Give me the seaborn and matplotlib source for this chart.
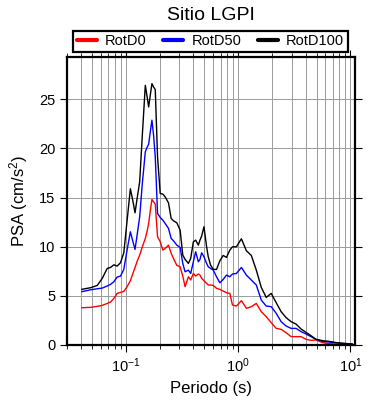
import numpy as np
import pandas as pd
import matplotlib
matplotlib.use("Agg")
import matplotlib.pyplot as plt
import matplotlib.ticker as mticker
import seaborn as sns

# Periodos (s) y espectros de respuesta
periodos = [0.0405, 0.0487, 0.0558, 0.0618, 0.0684, 0.0732, 0.0784, 0.0839, 0.0898, 0.0961,
            0.1028, 0.110, 0.1154, 0.121, 0.1269, 0.1331, 0.1405, 0.1494, 0.1546, 0.160,
            0.1654, 0.1711, 0.177, 0.1832, 0.192, 0.2028, 0.2141, 0.2245, 0.2403, 0.2538,
            0.2661, 0.285, 0.305, 0.322, 0.3376, 0.3613, 0.3789, 0.40, 0.4195, 0.4429,
            0.4582, 0.4740, 0.4971, 0.5248, 0.5429, 0.5694, 0.601, 0.6436, 0.6887, 0.737,
            0.789, 0.8445, 0.8917, 0.967, 1.071, 1.186, 1.313, 1.454, 1.610, 1.782,
            1.974, 2.186, 2.420, 2.680, 2.968, 3.285, 3.638, 4.027, 4.459, 4.937,
            5.655, 6.479, 7.421, 8.501, 10.42]

rotd100 = [5.66, 5.83, 6.06, 6.78, 7.79, 7.89, 8.16, 8.03, 8.37, 9.38,
           12.64, 15.89, 14.74, 13.45, 15.07, 16.60, 21.34, 26.42, 25.34, 24.22,
           25.41, 26.59, 26.25, 25.98, 19.14, 15.41, 15.35, 15.07, 14.46, 12.87,
           12.64, 12.43, 11.69, 9.15, 8.71, 8.30, 8.81, 10.50, 10.67, 10.16,
           10.67, 11.08, 12.03, 9.99, 8.98, 8.13, 7.69, 7.69, 8.57, 9.11,
           8.91, 9.65, 9.99, 9.99, 10.81, 9.59, 9.11, 7.62, 5.86, 4.84,
           5.25, 4.30, 3.39, 2.78, 2.37, 2.13, 1.63, 1.29, 0.95, 0.58,
           0.44, 0.37, 0.24, 0.17, 0.10]

rotd50 = [5.42, 5.62, 5.72, 5.79, 6.00, 6.17, 6.44, 6.91, 7.01, 7.69,
          9.65, 11.52, 10.60, 9.72, 11.35, 13.04, 16.43, 19.65, 20.09, 20.43,
          21.68, 22.87, 21.34, 19.14, 13.38, 12.97, 12.70, 12.36, 11.86, 10.84,
          10.60, 10.16, 9.93, 8.30, 7.45, 7.62, 7.28, 8.47, 9.49, 8.47,
          8.71, 9.38, 8.98, 8.30, 7.96, 7.79, 7.62, 6.94, 6.33, 6.67,
          7.11, 6.94, 7.22, 7.28, 7.89, 7.11, 6.61, 6.10, 4.57, 3.96,
          3.90, 3.22, 2.37, 1.93, 1.69, 1.69, 1.36, 1.12, 0.85, 0.58,
          0.37, 0.30, 0.24, 0.17, 0.10]

rotd0 = [3.79, 3.83, 3.93, 4.03, 4.23, 4.37, 4.74, 5.25, 5.35, 5.45,
         5.93, 6.54, 7.22, 7.89, 8.57, 9.15, 9.99, 10.84, 11.52, 12.36,
         13.65, 14.80, 14.57, 14.33, 11.01, 10.50, 9.65, 9.82, 10.16, 9.32,
         8.81, 8.10, 7.96, 7.01, 5.93, 6.94, 6.61, 7.28, 7.01, 7.22,
         7.11, 6.78, 6.54, 6.27, 6.10, 6.10, 6.06, 5.76, 5.66, 5.49,
         5.32, 5.25, 4.07, 3.96, 4.51, 3.73, 3.90, 4.23, 3.39, 2.88,
         2.27, 1.69, 1.59, 1.25, 0.85, 0.85, 0.85, 0.58, 0.47, 0.51,
         0.24, 0.14, 0.10, 0.07, 0.03]

componentes = ["RotD0", "RotD50", "RotD100"]
colores = ["red", "blue", "black"]

df = pd.DataFrame({
    "Periodo": periodos * 3,
    "PSA": rotd0 + rotd50 + rotd100,
    "Componente": sum([[c] * len(periodos) for c in componentes], []),
})

sns.set_style("ticks")
plt.rcParams["font.family"] = ["Liberation Sans", "DejaVu Sans"]
plt.rcParams["mathtext.fontset"] = "custom"
plt.rcParams["mathtext.rm"] = "Liberation Sans"
plt.rcParams["mathtext.it"] = "Liberation Sans:italic"
for k in ["text.color", "axes.labelcolor", "xtick.color", "ytick.color"]:
    plt.rcParams[k] = "black"

fig = plt.figure(figsize=(3.9, 4.0), dpi=100)
ax = fig.add_axes([0.1718, 0.1375, 0.7385, 0.72])

sns.lineplot(data=df, x="Periodo", y="PSA", hue="Componente",
             palette=dict(zip(componentes, colores)), linewidth=1.0,
             ax=ax, legend=False)

ax.set_xscale("log")
ax.set_xlim(0.03, 11)
ax.set_ylim(0, 29.3)
ax.yaxis.set_major_locator(mticker.MultipleLocator(5))
ax.xaxis.set_major_locator(mticker.LogLocator(base=10))
ax.xaxis.set_minor_locator(mticker.LogLocator(base=10, subs=np.arange(2, 10)))
ax.xaxis.set_minor_formatter(mticker.NullFormatter())

ax.grid(True, which="both", axis="x", color="#9a9a9a", linewidth=0.7)
ax.grid(True, which="major", axis="y", color="#9a9a9a", linewidth=0.7)
ax.set_axisbelow(True)

for s in ax.spines.values():
    s.set_linewidth(1.6)
    s.set_color("black")

ax.tick_params(which="major", direction="out", length=5, width=0.8,
               top=True, right=True, labelsize=10.5)
ax.tick_params(which="minor", direction="out", length=3, width=0.6,
               top=True, right=False, bottom=True)

ax.set_xlabel("Periodo (s)", fontsize=12, labelpad=4)
ax.set_ylabel("PSA (cm/s$^2$)", fontsize=12, labelpad=6)

handles = [plt.Line2D([], [], color=c, linewidth=3) for c in colores]
leg = fig.legend(handles, componentes, loc="lower left", ncol=3,
                 bbox_to_anchor=(0.187, 0.87, 0.705, 0.055), mode="expand",
                 borderaxespad=0, fancybox=False, framealpha=1,
                 edgecolor="black", fontsize=10.5, handlelength=1.4,
                 handletextpad=0.55, borderpad=0.25)
leg.get_frame().set_linewidth(1.6)

fig.text(0.541, 0.9625, "Sitio LGPI", ha="center", va="center", fontsize=14)

plt.savefig("out.png", dpi=100)
plt.close()
